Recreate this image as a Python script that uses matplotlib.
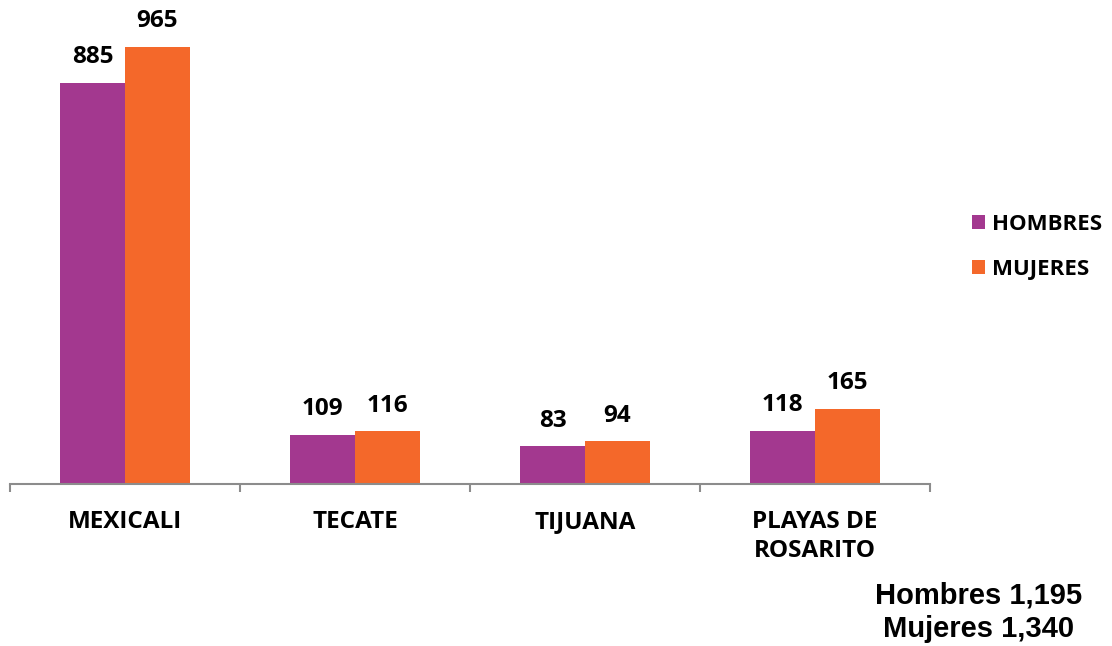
import matplotlib
matplotlib.use("Agg")
import matplotlib.pyplot as plt
import numpy as np

categories = ["MEXICALI", "TECATE", "TIJUANA", "PLAYAS DE\nROSARITO"]
hombres = [885, 109, 83, 118]
mujeres = [965, 116, 94, 165]
series_names = ["HOMBRES", "MUJERES"]
totals_text = "Hombres 1,195\nMujeres 1,340"

c_h = "#A3388F"
c_m = "#F4682A"

fig = plt.figure(figsize=(11.12, 6.46), dpi=100)
ax = fig.add_axes([10/1112, 1-484/646, 920/1112, 453/646])

x = np.arange(len(categories))
w = 65/230
bh = ax.bar(x - w/2, hombres, w, color=c_h, label=series_names[0])
bm = ax.bar(x + w/2, mujeres, w, color=c_m, label=series_names[1])

font = "Open Sans"
for bars, vals in ((bh, hombres), (bm, mujeres)):
    for b, v in zip(bars, vals):
        ax.annotate(f"{v}", (b.get_x() + b.get_width()/2, v), xytext=(0, 10),
                    textcoords="offset points", ha="center", va="bottom",
                    fontsize=17.5, fontweight="bold", family=font)

ax.set_xlim(-0.5, len(categories) - 0.5)
ax.set_ylim(0, 1000)
ax.set_yticks([])
for s in ("top", "right", "left"):
    ax.spines[s].set_visible(False)
ax.spines["bottom"].set_color("#8c8c8c")
ax.spines["bottom"].set_linewidth(1.5)
ax.set_xticks(np.arange(len(categories) + 1) - 0.5)
ax.set_xticklabels([])
ax.tick_params(axis="x", length=6, width=1.5, color="#8c8c8c")
for i, c in enumerate(categories):
    ax.text(i, -58, c, ha="center", va="top", fontsize=17.5, fontweight="bold",
            family=font, linespacing=1.27)

leg = fig.legend(handles=[bh, bm], loc="center left", bbox_to_anchor=(952/1112, 1-247/646),
                 frameon=False, prop={"family": font, "weight": "bold", "size": 16},
                 handlelength=0.6, handleheight=0.6, handletextpad=0.3, labelspacing=1.1)

fig.text(979/1112, 1-612/646, totals_text, ha="center", va="center", fontsize=21,
         fontweight="bold", family="Liberation Sans", linespacing=1.25)

fig.savefig("out.png", dpi=100)
